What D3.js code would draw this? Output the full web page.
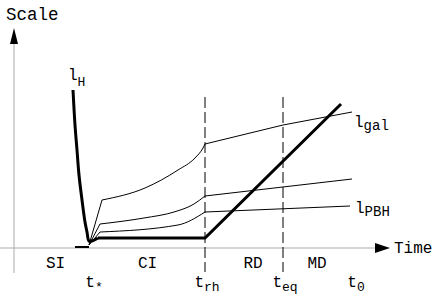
<!DOCTYPE html>
<html>
<head>
<meta charset="utf-8">
<script src="https://cdn.jsdelivr.net/npm/d3@7"></script>
<style>
  body { margin: 0; background: #fff; }
  text { font-family: "Liberation Mono", monospace; fill: #000; }
</style>
</head>
<body>
<svg id="chart" width="436" height="300"></svg>
<script>
// epochs on the time axis (units along the axis)
var epochTimes = [75, 191, 269, 340];
var epochNames = [["t", "*"], ["t", "rh"], ["t", "eq"], ["t", "0"]];
var eraNames = ["SI", "CI", "RD", "MD"];
var eraCentres = [41.5, 133.5, 239, 303];

// thick curves: Hubble length, then horizon scale
var hubbleCurve = [[59,158],[61,123],[63,98],[65,73],[68,48],[71,26],[73,16],[75,7],[78,7],[84,10]];
var horizonLine = [[84,10],[191,10],[327,144]];
var preInflation = [[61,1],[75,1]];

// thin curves (scale of a comoving length), before and after t_rh
var galEarly = [[75,3],[88,48]];
var galCI    = [[88,48],[131,60],[164,78],[181,90],[189,100],[191,104]];
var galLate  = [[191,104],[269,123],[338,136]];
var midEarly = [[75,3],[86,24]];
var midCI    = [[86,24],[130,30],[160,36],[180,44],[191,52]];
var midLate  = [[191,52],[338,69]];
var pbhEarly = [[75,3],[86,16]];
var pbhCI    = [[86,16],[164,23],[191,36]];
var pbhLate  = [[191,36],[336,42]];

var svg = d3.select("#chart");

var x = d3.scaleLinear().domain([0, 376]).range([14, 390]);
var y = d3.scaleLinear().domain([0, 220]).range([248, 28]);

var straight = d3.line().x(function(d) { return x(d[0]); }).y(function(d) { return y(d[1]); });
var smooth = d3.line().x(function(d) { return x(d[0]); }).y(function(d) { return y(d[1]); })
               .curve(d3.curveMonotoneX);
var bendy = d3.line().x(function(d) { return x(d[0]); }).y(function(d) { return y(d[1]); })
              .curve(d3.curveCatmullRom.alpha(0.5));

// axes
svg.append("line")
   .attr("x1", 0).attr("x2", x(361))
   .attr("y1", y(0)).attr("y2", y(0))
   .attr("stroke", "#aaa").attr("stroke-width", 1);
svg.append("path")
   .attr("d", "M" + x(361) + "," + (y(0) - 5) + "L" + x(376) + "," + y(0) + "L" + x(361) + "," + (y(0) + 5) + "Z")
   .attr("fill", "#000");
svg.append("line")
   .attr("x1", x(0)).attr("x2", x(0))
   .attr("y1", y(-25)).attr("y2", y(204))
   .attr("stroke", "#aaa").attr("stroke-width", 1);
svg.append("path")
   .attr("d", "M" + (x(0) - 4) + "," + y(204) + "L" + x(0) + "," + y(220) + "L" + (x(0) + 4) + "," + y(204) + "Z")
   .attr("fill", "#000");

// dashed epoch markers
svg.selectAll("line.epoch")
   .data([epochTimes[1], epochTimes[2]])
   .enter().append("line")
   .attr("class", "epoch")
   .attr("x1", function(d) { return x(d); }).attr("x2", function(d) { return x(d); })
   .attr("y1", y(151)).attr("y2", y(-24))
   .attr("stroke", "#000").attr("stroke-width", 1)
   .attr("stroke-dasharray", "11,4");

// thin curves
[galEarly, midEarly, pbhEarly, galLate, midLate, pbhLate].forEach(function(d) {
  svg.append("path").attr("d", straight(d))
     .attr("fill", "none").attr("stroke", "#000").attr("stroke-width", 1);
});
[galCI, midCI, pbhCI].forEach(function(d) {
  svg.append("path").attr("d", smooth(d))
     .attr("fill", "none").attr("stroke", "#000").attr("stroke-width", 1);
});

// thick curves
svg.append("path").attr("d", bendy(hubbleCurve))
   .attr("fill", "none").attr("stroke", "#000").attr("stroke-width", 3);
svg.append("path").attr("d", straight(horizonLine))
   .attr("fill", "none").attr("stroke", "#000").attr("stroke-width", 3)
   .attr("stroke-linejoin", "miter");
svg.append("path").attr("d", straight(preInflation))
   .attr("fill", "none").attr("stroke", "#000").attr("stroke-width", 2);

// labels with subscripts
function subLabel(px, py, main, sub, size, subSize, drop, anchor) {
  var t = svg.append("text")
     .attr("x", px).attr("y", py)
     .attr("font-size", size)
     .attr("text-anchor", anchor || "start");
  t.append("tspan").text(main);
  t.append("tspan").attr("font-size", subSize).attr("dy", drop).text(sub);
}

svg.append("text").attr("x", 6).attr("y", 20).attr("font-size", 17.5).text("Scale");
svg.append("text").attr("x", x(380)).attr("y", y(0) + 5).attr("font-size", 16).text("Time");

svg.selectAll("text.era")
   .data(eraNames)
   .enter().append("text")
   .attr("class", "era")
   .attr("x", function(d, i) { return x(eraCentres[i]); })
   .attr("y", 268)
   .attr("font-size", 16)
   .attr("text-anchor", "middle")
   .text(function(d) { return d; });

epochNames.forEach(function(n, i) {
  var shift = i === 0 ? 5 : 2;
  subLabel(x(epochTimes[i]) + shift, 287, n[0], n[1], 16, 13, 4, "middle");
});

subLabel(x(54), y(168), "l", "H", 16, 13, 6);
subLabel(x(340), y(121), "l", "gal", 16, 14, 3);
subLabel(x(341), y(35), "l", "PBH", 16, 14, 3);
</script>
</body>
</html>
